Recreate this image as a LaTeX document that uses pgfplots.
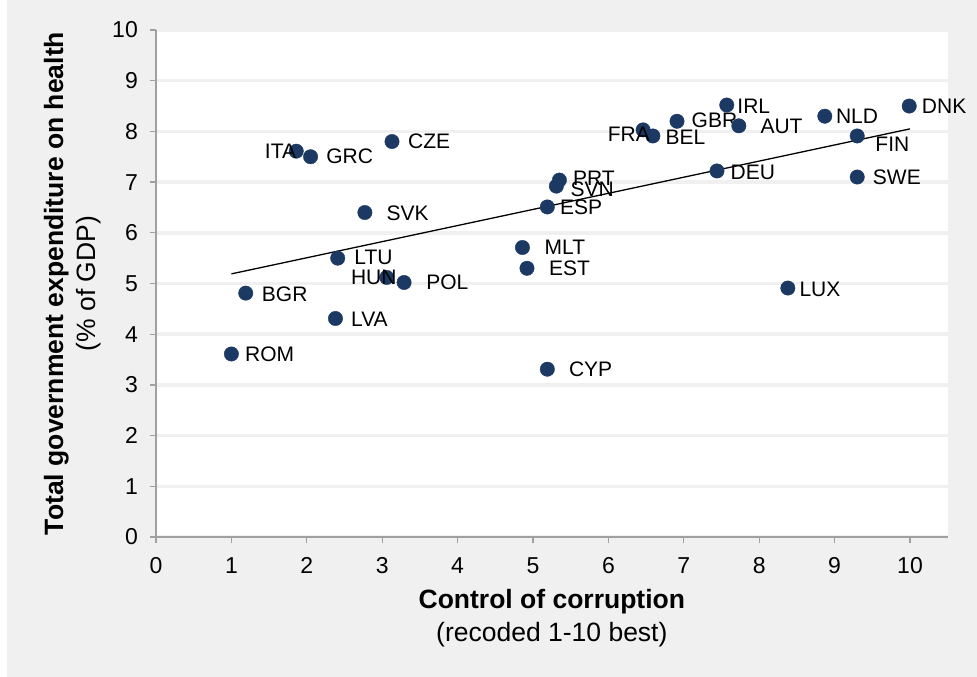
\documentclass[border=0pt]{standalone}
\usepackage{fontspec}
\setmainfont{Liberation Sans}
\usepackage{pgfplots}
\pgfplotsset{compat=1.18}
\usepackage{pgfplotstable}
\definecolor{panel}{RGB}{240,240,240}
\definecolor{gridc}{RGB}{240,240,240}
\definecolor{axisc}{RGB}{160,160,160}
\definecolor{dotc}{RGB}{28,57,99}

% labels to the right of the dot
\pgfplotstableread{
x y lab dx dy
1.00 3.61 ROM 13.5 0
1.19 4.81 BGR 16 -1
2.05 7.50 GRC 15.5 0
2.38 4.31 LVA 15.5 -1
2.41 5.50 LTU 16.5 1
2.77 6.40 SVK 21.5 -1
3.13 7.80 CZE 16 0
3.29 5.02 POL 22 0
4.86 5.71 MLT 22 0
4.92 5.30 EST 22 0
5.19 3.31 CYP 21.5 0
5.19 6.51 ESP 12.5 0
5.31 6.92 SVN 14 -3.5
5.35 7.04 PRT 13.5 1.5
6.59 7.91 BEL 12.5 -1.5
6.91 8.20 GBR 14.5 0.5
7.44 7.22 DEU 13.5 -1
7.57 8.52 IRL 10.5 -1
7.73 8.11 AUT 21.5 -1
8.38 4.91 LUX 11.5 -1
8.87 8.30 NLD 11 0
9.30 7.91 FIN 18 -8.5
9.30 7.10 SWE 15.5 -0.5
9.99 8.50 DNK 12.5 -0.7
}\rightlab

% labels to the left of the dot
\pgfplotstableread{
x y lab dx dy
1.86 7.61 ITA 0 0
3.06 5.12 HUN 10 0
6.46 8.03 FRA 7 -4
}\leftlab

\begin{document}
\begin{tikzpicture}[x=1pt,y=1pt]
\fill[white] (0pt,0pt) rectangle (977pt,-677pt);
\fill[panel] (7pt,0pt) rectangle (977pt,-677pt);
\begin{axis}[
  at={(156pt,-537pt)}, anchor=south west,
  scale only axis, width=791.7pt, height=507pt,
  xmin=0, xmax=10.5, ymin=0, ymax=10,
  clip=false,
  axis x line=bottom, axis y line=left,
  axis line style={draw=axisc, line width=1.3pt, -},
  tick style={draw=axisc, line width=1.3pt},
  tick align=outside, major tick length=6pt,
  xtick={0,...,10}, ytick={0,...,10},
  ymajorgrids, major grid style={draw=gridc, line width=3.5pt},
  axis background/.style={fill=white},
  /pgf/number format/assume math mode=true,
  ticklabel style={font=\fontsize{23}{27}\selectfont, inner sep=0pt, text=black},
  xticklabel style={yshift=-14pt},
  yticklabel style={xshift=-12pt},
  xlabel={\textbf{Control of corruption}\\(recoded 1-10 best)},
  ylabel={\textbf{Total government expenditure on health}\\(\% of GDP)},
  xlabel style={at={(axis description cs:0.5,-0.10355)}, anchor=north, inner sep=0pt, align=center, font=\fontsize{26.5}{32.7}\selectfont},
  ylabel style={at={(axis description cs:-0.14185,0.5)}, anchor=north, inner sep=0pt, align=center, font=\fontsize{26.5}{32.7}\selectfont},
  mylab/.style={only marks, mark=*, mark size=7.2pt, mark options={fill=dotc, draw=dotc},
    nodes near coords, point meta=explicit symbolic,
    visualization depends on={\thisrow{dx}\as\dx},
    visualization depends on={\thisrow{dy}\as\dy},
    every node near coord/.append style={anchor=#1, xshift=\dx, yshift=\dy, inner sep=0pt, font=\fontsize{21}{25}\selectfont, text=black}},
]
\addplot[black, line width=1.3pt, no marks] coordinates {(1.0,5.19) (10.0,8.05)};
\addplot[mylab=west] table[x=x, y=y, meta=lab] {\rightlab};
\addplot[mylab=east] table[x=x, y=y, meta=lab] {\leftlab};
\end{axis}
\pgfresetboundingbox
\useasboundingbox (0pt,0pt) rectangle (977pt,-677pt);
\end{tikzpicture}
\end{document}
